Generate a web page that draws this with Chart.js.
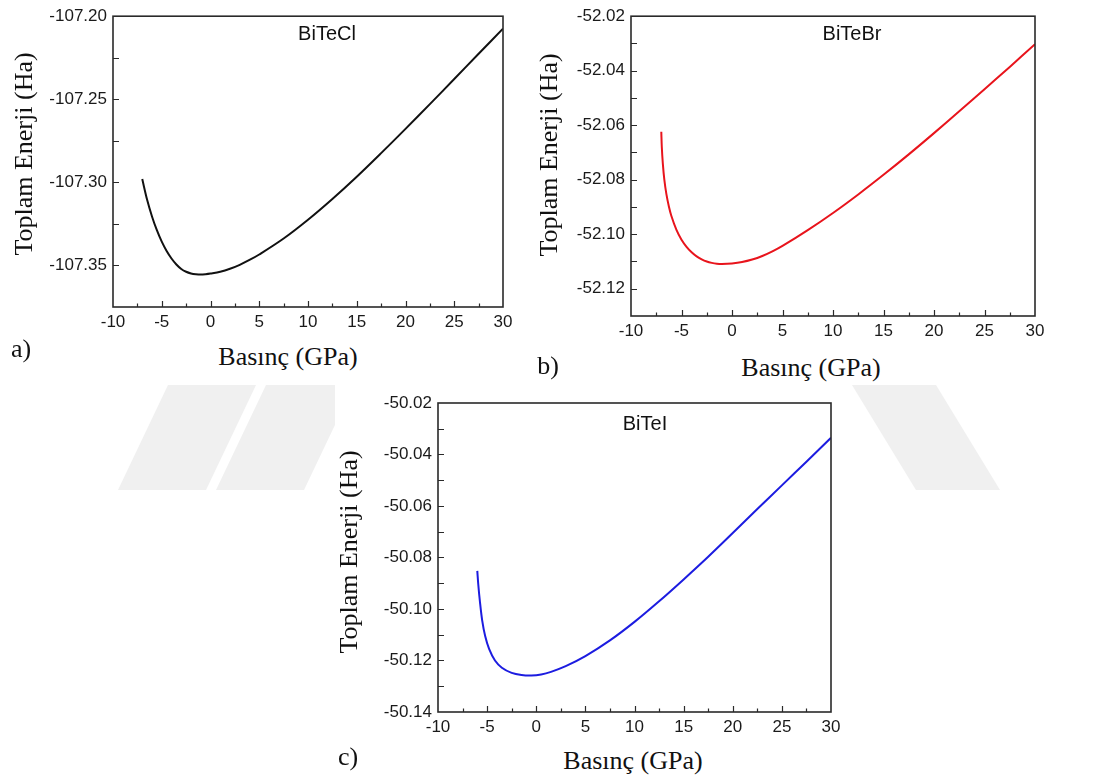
<!DOCTYPE html>
<html>
<head>
<meta charset="utf-8">
<script src="https://cdn.jsdelivr.net/npm/chart.js@4.4.1/dist/chart.umd.min.js"></script>
<style>
  html, body { margin: 0; padding: 0; background: #fff; }
  body { position: relative; width: 1098px; height: 782px; overflow: hidden; }
  canvas { position: absolute; }
  .wm { position: absolute; left: 0; top: 0; }
  .sheet { position: absolute; background: #fff; }
  .t { position: absolute; white-space: nowrap; line-height: 1; color: #111;
       font-family: "Liberation Serif", "Times New Roman", serif; font-size: 26px;
       transform: translate(-50%, -50%); }
  .t.v { transform: translate(-50%, -50%) rotate(-90deg); }
  .tag { position: absolute; white-space: nowrap; line-height: 1; color: #111;
         font-family: "Liberation Sans", Arial, sans-serif; font-size: 20px;
         transform: translate(-50%, -50%); }
</style>
</head>
<body>
<!-- faint background watermark stripes -->
<svg class="wm" width="1098" height="782">
  <polygon points="168,385 256,385 206,490 118,490" fill="#f0f0f0"/>
  <polygon points="266,385 354,385 304,490 216,490" fill="#f0f0f0"/>
  <polygon points="852,385 936,385 1000,490 916,490" fill="#f0f0f0"/>
</svg>
<div class="sheet" style="left:335px; top:385px; width:515px; height:397px;"></div>

<canvas id="chA" width="520" height="340" style="left:0px; top:0px;"></canvas>
<canvas id="chB" width="540" height="345" style="left:520px; top:0px;"></canvas>
<canvas id="chC" width="520" height="360" style="left:330px; top:385px;"></canvas>

<div class="t v" style="left:24px; top:154px;">Toplam Enerji (Ha)</div>
<div class="t" style="left:288px; top:357px;">Basınç (GPa)</div>
<div class="t" style="left:21px; top:349px;">a)</div>
<div class="tag" style="left:327px; top:33px;">BiTeCl</div>

<div class="t v" style="left:549px; top:155px;">Toplam Enerji (Ha)</div>
<div class="t" style="left:811px; top:368px;">Basınç (GPa)</div>
<div class="t" style="left:548px; top:366px;">b)</div>
<div class="tag" style="left:852px; top:33px;">BiTeBr</div>

<div class="t v" style="left:349px; top:552px;">Toplam Enerji (Ha)</div>
<div class="t" style="left:633px; top:761px;">Basınç (GPa)</div>
<div class="t" style="left:348px; top:757px;">c)</div>
<div class="tag" style="left:645px; top:423px;">BiTeI</div>

<script>
// Pressure axis (GPa), shared by the three panels
const pressureTicks = [-10, -5, 0, 5, 10, 15, 20, 25, 30];

// (a) BiTeCl total energy vs pressure
const pressureA = [-7, -6.5, -6, -5.5, -5, -4.5, -4, -3.5, -3, -2.5, -2, -1.5, -1, -0.5, 0, 1, 2, 3, 4, 5, 7.5, 10, 12.5, 15, 17.5, 20, 22.5, 25, 27.5, 30];
const energyA = [-107.2980, -107.3105, -107.3205, -107.3288, -107.3357, -107.3413, -107.3458, -107.3494, -107.3521, -107.3538, -107.3548, -107.3553, -107.3555, -107.3553, -107.3549, -107.3538, -107.3520, -107.3496, -107.3467, -107.3434, -107.3338, -107.3225, -107.3100, -107.2966, -107.2824, -107.2678, -107.2529, -107.2378, -107.2226, -107.2075];
const energyTicksA = [-107.35, -107.30, -107.25, -107.20];

// (b) BiTeBr
const pressureB = [-7, -6.95, -6.85, -6.7, -6.5, -6.25, -6, -5.5, -5, -4.5, -4, -3.5, -3, -2.5, -2, -1.5, -1, 0, 1, 2, 3, 4, 5, 7.5, 10, 12.5, 15, 17.5, 20, 22.5, 25, 27.5, 30];
const energyB = [-52.0624, -52.0680, -52.0740, -52.0800, -52.0852, -52.0898, -52.0933, -52.0984, -52.1020, -52.1046, -52.1066, -52.1081, -52.1092, -52.1100, -52.1105, -52.1108, -52.1109, -52.1107, -52.1102, -52.1093, -52.1080, -52.1063, -52.1043, -52.0985, -52.0922, -52.0854, -52.0782, -52.0707, -52.0629, -52.0549, -52.0468, -52.0386, -52.0303];
const energyTicksB = [-52.12, -52.10, -52.08, -52.06, -52.04, -52.02];

// (c) BiTeI
const pressureC = [-6, -5.9, -5.75, -5.5, -5.2, -4.8, -4.2, -3.5, -2.5, -1.5, -0.5, 0.5, 1.5, 3, 5, 7.5, 10, 12.5, 15, 17.5, 20, 22.5, 25, 27.5, 30];
const energyC = [-50.0852, -50.0905, -50.0965, -50.1045, -50.1105, -50.1155, -50.1200, -50.1228, -50.1248, -50.1256, -50.1258, -50.1254, -50.1244, -50.1222, -50.1183, -50.1122, -50.1050, -50.0970, -50.0885, -50.0797, -50.0705, -50.0612, -50.0520, -50.0428, -50.0335];
const energyTicksC = [-50.14, -50.12, -50.10, -50.08, -50.06, -50.04, -50.02];

// Closed frame with inward major/minor tick marks
const frameTicks = {
  id: 'frameTicks',
  afterDatasetsDraw(chart, args, opts) {
    const { ctx, chartArea: a, scales: { x, y } } = chart;
    ctx.save();
    ctx.strokeStyle = '#2a2a2a';
    ctx.lineWidth = 1.2;
    ctx.beginPath();
    const nx = Math.round((x.max - x.min) / opts.xMinor);
    for (let i = 1; i < nx; i++) {
      const px = Math.round(x.getPixelForValue(x.min + i * opts.xMinor)) + 0.5;
      const len = i % 2 === 0 ? 6 : 3.5;
      ctx.moveTo(px, a.bottom);
      ctx.lineTo(px, a.bottom - len);
    }
    const ny = Math.round((y.max - y.min) / opts.yMinor);
    for (let i = 1; i < ny; i++) {
      const py = Math.round(y.getPixelForValue(y.min + i * opts.yMinor)) + 0.5;
      ctx.moveTo(a.left, py);
      ctx.lineTo(a.left + 6, py);
    }
    ctx.stroke();
    ctx.lineWidth = 1.6;
    ctx.strokeRect(a.left, a.top, a.right - a.left, a.bottom - a.top);
    ctx.restore();
  }
};

const tickFont = { family: '"Liberation Sans", Arial, sans-serif', size: 17 };

function makeChart(id, xs, ys, color, yMin, yMax, yTicks, yMinor, box) {
  const points = xs.map((p, i) => ({ x: p, y: ys[i] }));
  return new Chart(document.getElementById(id), {
    type: 'line',
    data: {
      datasets: [{
        data: points,
        borderColor: color,
        borderWidth: 2,
        pointRadius: 0,
        fill: false,
        tension: 0.35
      }]
    },
    plugins: [frameTicks],
    options: {
      responsive: false,
      animation: false,
      devicePixelRatio: 1,
      layout: { padding: { top: box.top, right: box.right, left: 0, bottom: 0 } },
      plugins: {
        legend: { display: false },
        tooltip: { enabled: false },
        frameTicks: { xMinor: 2.5, yMinor: yMinor }
      },
      scales: {
        x: {
          type: 'linear',
          min: -10, max: 30,
          afterBuildTicks: s => { s.ticks = pressureTicks.map(v => ({ value: v })); },
          afterFit: s => { s.height = box.bottom; },
          grid: { display: false, drawTicks: false },
          border: { display: false },
          ticks: { padding: 5, font: tickFont, color: '#1a1a1a', maxRotation: 0, autoSkip: false,
                   callback: v => String(v) }
        },
        y: {
          type: 'linear',
          min: yMin, max: yMax,
          afterBuildTicks: s => { s.ticks = yTicks.map(v => ({ value: v })); },
          afterFit: s => { s.width = box.left; },
          grid: { display: false, drawTicks: false },
          border: { display: false },
          ticks: { padding: 6, font: tickFont, color: '#1a1a1a', autoSkip: false,
                   callback: v => Number(v).toFixed(2) }
        }
      }
    }
  });
}

makeChart('chA', pressureA, energyA, '#111111', -107.375, -107.20, energyTicksA, 0.025,
          { left: 113, top: 14, right: 17, bottom: 33 });
makeChart('chB', pressureB, energyB, '#e8141c', -52.13, -52.02, energyTicksB, 0.01,
          { left: 111, top: 13, right: 25, bottom: 29 });
makeChart('chC', pressureC, energyC, '#1c1ce0', -50.14, -50.02, energyTicksC, 0.01,
          { left: 108, top: 18, right: 19, bottom: 33 });
</script>
</body>
</html>
